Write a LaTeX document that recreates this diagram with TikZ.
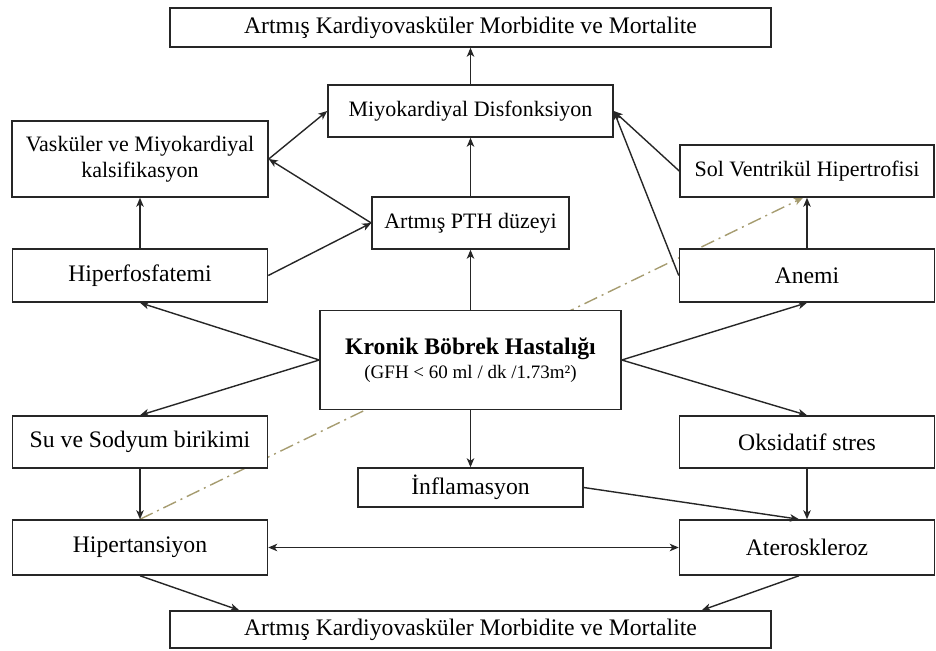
\documentclass[tikz,border=0pt]{standalone}
\usepackage{fontspec}
\setmainfont{Liberation Serif}
\usetikzlibrary{arrows.meta,calc,backgrounds}
\definecolor{khakiline}{RGB}{166,156,112}

\begin{document}
\begin{tikzpicture}[
  x=1pt, y=-1pt,
  box/.style={draw=black!85, line width=1.5pt, fill=white, align=center, inner sep=2pt, font=\fontsize{23.7}{27}\selectfont},
  smallbox/.style={box, font=\fontsize{22}{26}\selectfont},
  side/.style={box, minimum width=255pt, minimum height=53pt},
  arr/.style={-{Stealth[length=9pt,width=7.5pt,inset=2.5pt]}, line width=1.4pt, draw=black!85},
  dasharr/.style={arr, draw=khakiline, dash pattern=on 14pt off 5pt on 2pt off 5pt}
]
\useasboundingbox (0,0) rectangle (936,650);

% top row
\node[box, minimum width=601pt, minimum height=39pt] (outtop) at (470.5,27.5) {Artmış Kardiyovasküler Morbidite ve Mortalite};
\node[smallbox, minimum width=285pt, minimum height=52pt] (myo) at (470.5,111) {Miyokardiyal Disfonksiyon};
\node[smallbox, minimum width=256pt, minimum height=76pt] (vask) at (140,159) {Vasküler ve Miyokardiyal\\kalsifikasyon};
\node[smallbox, minimum width=254pt, minimum height=52pt] (sol) at (807,171) {Sol Ventrikül Hipertrofisi};
\node[smallbox, minimum width=197pt, minimum height=52pt] (pth) at (470.5,223) {Artmış PTH düzeyi};
\node[side] (hiper) at (140,275.5) {Hiperfosfatemi};
\node[side] (anemi) at (807,275.5) {Anemi};

% centre
\node[box, minimum width=301pt, minimum height=99pt] (kbh) at (470.5,360) {\textbf{Kronik Böbrek Hastalığı}\\[-3pt]{\fontsize{19}{22}\selectfont (GFH < 60 ml / dk /1.73m²)}};

% lower rows
\node[side, minimum height=52pt] (su) at (140,442) {Su ve Sodyum birikimi};
\node[side, minimum height=52pt] (oks) at (807,442) {Oksidatif stres};
\node[box, minimum width=225pt, minimum height=39pt] (infl) at (470.5,487.5) {İnflamasyon};
\node[side, minimum height=55pt] (hipt) at (140,547.5) {Hipertansiyon};
\node[side, minimum height=55pt] (ater) at (807,547.5) {Ateroskleroz};
\node[box, minimum width=601pt, minimum height=37pt] (outbot) at (470.5,629.5) {Artmış Kardiyovasküler Morbidite ve Mortalite};

% dash-dot link, behind the boxes
\begin{scope}[on background layer]
\draw[dasharr] (hipt.north) -- ($(sol.south)+(-4,0)$);
\end{scope}

% upper part
\draw[arr] (myo) -- (outtop);
\draw[arr] (pth) -- (myo);
\draw[arr] (kbh) -- (pth);
\draw[arr] (hiper) -- (vask);
\draw[arr] (hiper.east) -- (pth.west);
\draw[arr] (pth.west) -- (vask.east);
\draw[arr] (vask.east) -- (myo.west);
\draw[arr] (sol.west) -- (myo.east);
\draw[arr] (anemi.west) -- (myo.east);
\draw[arr] (anemi) -- (sol);
\draw[arr] (kbh.west) -- (hiper.south);
\draw[arr] (kbh.east) -- (anemi.south);

% lower part
\draw[arr] (kbh.west) -- (su.north);
\draw[arr] (kbh.east) -- (oks.north);
\draw[arr] (kbh) -- (infl);
\draw[arr] (su) -- (hipt);
\draw[arr] (oks) -- (ater);
\draw[arr] (infl.east) -- ($(ater.north)+(-8,0)$);
\draw[arr, {Stealth[length=9pt,width=7.5pt,inset=2.5pt]}-{Stealth[length=9pt,width=7.5pt,inset=2.5pt]}] (hipt) -- (ater);
\draw[arr] (hipt.south) -- ($(outbot.north west)+(70,0)$);
\draw[arr] ($(ater.south)+(-8,0)$) -- ($(outbot.north east)+(-70,0)$);
\end{tikzpicture}
\end{document}
